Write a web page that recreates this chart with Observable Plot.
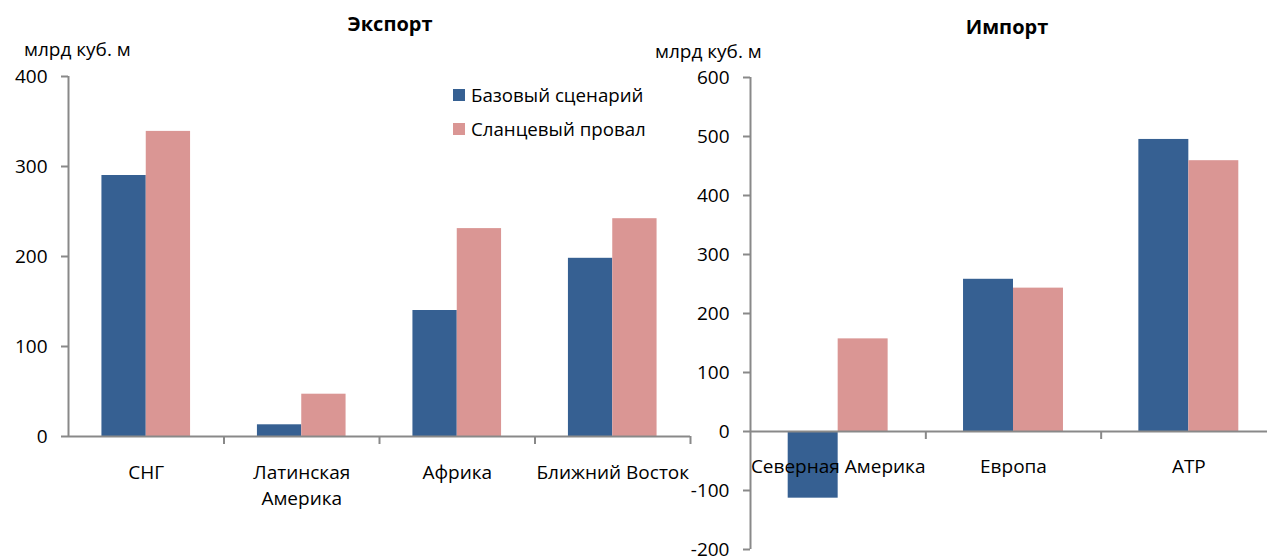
<!DOCTYPE html>
<html>
<head>
<meta charset="utf-8">
<script src="https://cdn.jsdelivr.net/npm/d3@7"></script>
<script src="https://cdn.jsdelivr.net/npm/@observablehq/plot@0.6"></script>
<style>
  html, body { margin: 0; padding: 0; background: #fff; overflow: hidden; }
  body { width: 1267px; height: 557px; position: relative; font-family: "Open Sans", sans-serif; color: #000; }
  .abs { position: absolute; white-space: nowrap; }
  .title { font-weight: bold; font-size: 20px; line-height: 20px; transform: translateX(-50%); }
  .unit { font-size: 19px; line-height: 19px; }
  .legend-item { font-size: 18.7px; line-height: 19px; display: flex; align-items: center; }
  .swatch { width: 12px; height: 12px; margin-right: 6px; display: inline-block; }
  .chart { position: absolute; top: 0; }
</style>
</head>
<body>
<div id="root"></div>
<script>
// ---- Data ----
const exportCategories = ["СНГ", "Латинская\nАмерика", "Африка", "Ближний Восток"];
const exportBase  = [290, 13, 140, 198];
const exportShale = [339, 47, 231, 242];
const exportTicks = [0, 100, 200, 300, 400];

const importCategories = ["Северная Америка", "Европа", "АТР"];
const importBase  = [-113, 258, 495];
const importShale = [157, 243, 459];
const importTicks = [-200, -100, 0, 100, 200, 300, 400, 500, 600];

const seriesNames  = ["Базовый сценарий", "Сланцевый провал"];
const seriesColors = ["#366092", "#DA9694"];
const chartTitles  = ["Экспорт", "Импорт"];
const unitLabel    = "млрд куб. м";

// ---- Style constants ----
const axisColor = "#898989";
const font = "'Open Sans', sans-serif";
const groupStart = 0.215, groupMid = 0.5, groupEnd = 0.785;

function rowsFor(categories, base, shale) {
  const rows = [];
  categories.forEach((c, i) => {
    rows.push({i, category: c, series: seriesNames[0], value: base[i], x1: i + groupStart, x2: i + groupMid});
    rows.push({i, category: c, series: seriesNames[1], value: shale[i], x1: i + groupMid, x2: i + groupEnd});
  });
  return rows;
}

function chart({categories, base, shale, ticks, width, height, marginTop, marginBottom, marginLeft, marginRight, labelDy}) {
  const rows = rowsFor(categories, base, shale);
  const n = categories.length;
  const labels = categories.map((c, i) => ({x: i + 0.5, label: c}));
  return Plot.plot({
    width, height, marginTop, marginBottom, marginLeft, marginRight,
    style: {background: "transparent", fontFamily: font, fontSize: "19px", color: "#000", overflow: "visible"},
    x: {domain: [0, n], axis: null},
    y: {domain: d3.extent(ticks), axis: null},
    color: {domain: seriesNames, range: seriesColors},
    marks: [
      Plot.rectY(rows, {x1: "x1", x2: "x2", y1: 0, y2: "value", fill: "series"}),
      Plot.ruleY([0], {stroke: axisColor, strokeWidth: 2}),
      Plot.ruleX([0], {stroke: axisColor, strokeWidth: 2}),
      Plot.ruleX(d3.range(1, n + 1), {y1: 0, y2: 0, insetBottom: -8, stroke: axisColor, strokeWidth: 2}),
      Plot.axisY({ticks, label: null, tickSize: 7, tickPadding: 14, stroke: axisColor, strokeWidth: 2, fontSize: 19, tickFormat: d => String(d)}),
      Plot.text(labels, {x: "x", y: 0, text: "label", dy: labelDy, lineAnchor: "top", lineHeight: 1.37, fontSize: 19, fill: "#000"})
    ]
  });
}

const root = document.getElementById("root");

const left = chart({
  categories: exportCategories, base: exportBase, shale: exportShale, ticks: exportTicks,
  width: 695, height: 557, marginTop: 76, marginBottom: 121, marginLeft: 68, marginRight: 5, labelDy: 24
});
left.classList.add("chart");
left.style.left = "0px";
root.appendChild(left);

const right = chart({
  categories: importCategories, base: importBase, shale: importShale, ticks: importTicks,
  width: 590, height: 557, marginTop: 77, marginBottom: 8, marginLeft: 60, marginRight: 4, labelDy: 23
});
right.classList.add("chart");
right.style.left = "690px";
root.appendChild(right);

// Titles
function addDiv(cls, text, left, top) {
  const d = document.createElement("div");
  d.className = "abs " + cls;
  d.textContent = text;
  d.style.left = left + "px";
  d.style.top = top + "px";
  root.appendChild(d);
  return d;
}
addDiv("title", chartTitles[0], 390, 14);
addDiv("title", chartTitles[1], 1007, 17);
addDiv("unit", unitLabel, 24, 40);
addDiv("unit", unitLabel, 655, 42);

// Legend
seriesNames.forEach((name, k) => {
  const item = document.createElement("div");
  item.className = "abs legend-item";
  item.style.left = "453px";
  item.style.top = (85 + k * 34) + "px";
  const sw = document.createElement("span");
  sw.className = "swatch";
  sw.style.background = seriesColors[k];
  item.appendChild(sw);
  item.appendChild(document.createTextNode(name));
  root.appendChild(item);
});
</script>
</body>
</html>
